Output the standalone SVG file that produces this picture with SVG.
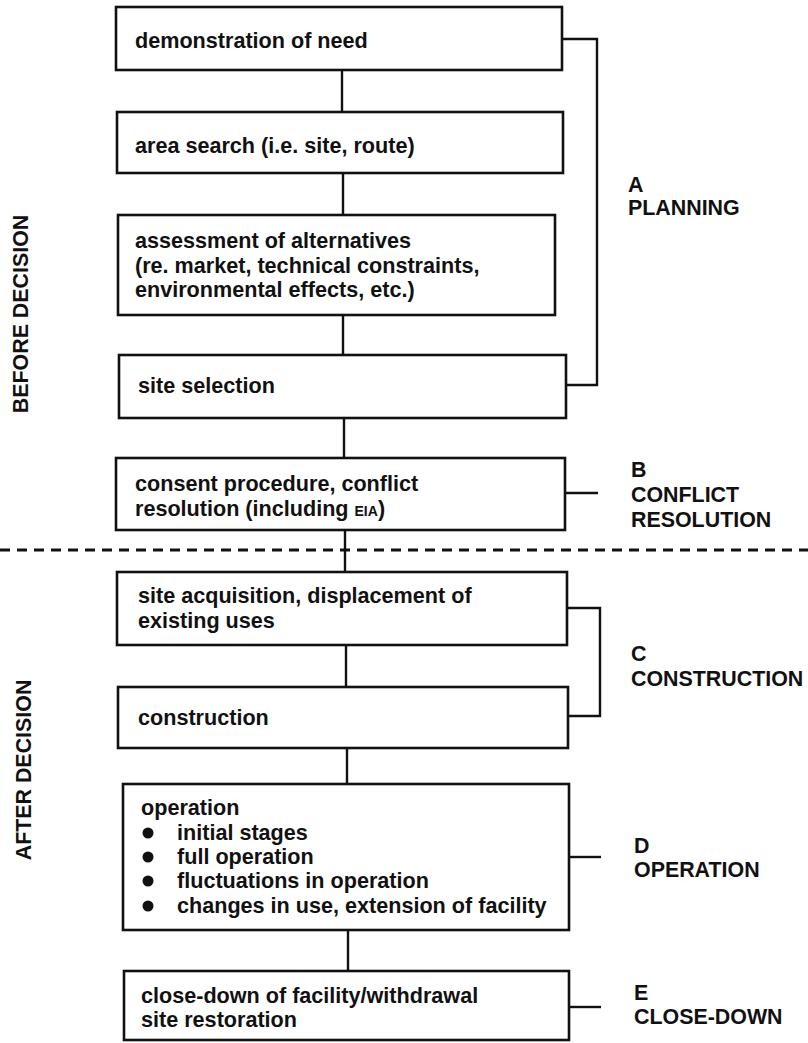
<svg xmlns="http://www.w3.org/2000/svg" width="808" height="1043" viewBox="0 0 808 1043">
<style>
  .box { fill: #fff; stroke: #111; stroke-width: 2.6; }
  .ln { fill: none; stroke: #111; stroke-width: 2.4; }
  .t { font-family: "Liberation Sans", Arial, sans-serif; font-weight: bold; font-size: 21.6px; fill: #111; }
  .lab { font-family: "Liberation Sans", Arial, sans-serif; font-weight: bold; font-size: 21.4px; fill: #111; }
  .side { font-family: "Liberation Sans", Arial, sans-serif; font-weight: bold; font-size: 21.4px; fill: #111; text-anchor: middle; }
  .dash { stroke: #111; stroke-width: 3; stroke-dasharray: 10 7; }
</style>
<rect width="808" height="1043" fill="#fff"/>

<g id="connectors">
  <line class="ln" x1="342" y1="70" x2="342" y2="112"/>
  <line class="ln" x1="343" y1="173" x2="343" y2="215"/>
  <line class="ln" x1="343" y1="315" x2="343" y2="355"/>
  <line class="ln" x1="344" y1="418" x2="344" y2="458"/>
  <line class="ln" x1="345" y1="530" x2="345" y2="572"/>
  <line class="ln" x1="346" y1="645" x2="346" y2="687"/>
  <line class="ln" x1="347" y1="748" x2="347" y2="784"/>
  <line class="ln" x1="348" y1="930" x2="348" y2="971"/>
  <polyline class="ln" points="562,39 597,39 597,385 566,385"/>
  <line class="ln" x1="565" y1="493" x2="598" y2="493"/>
  <polyline class="ln" points="567,608 600,608 600,716 568,716"/>
  <line class="ln" x1="569" y1="857" x2="601" y2="857"/>
  <line class="ln" x1="569" y1="1007" x2="601" y2="1007"/>
</g>

<line id="divider" class="dash" x1="0" y1="550" x2="808" y2="550"/>

<g id="side-before">
  <text class="side" transform="translate(28,314) rotate(-90)">BEFORE DECISION</text>
</g>
<g id="side-after">
  <text class="side" transform="translate(31,770) rotate(-90)">AFTER DECISION</text>
</g>

<g id="n1">
  <rect class="box" x="116" y="7" width="446" height="63"/>
  <text class="t" x="135" y="48">demonstration of need</text>
</g>
<g id="n2">
  <rect class="box" x="117" y="112" width="446" height="61"/>
  <text class="t" x="135" y="153">area search (i.e. site, route)</text>
</g>
<g id="n3">
  <rect class="box" x="118" y="215" width="437" height="100"/>
  <text class="t" x="135" y="248">assessment of alternatives</text>
  <text class="t" x="135" y="273">(re. market, technical constraints,</text>
  <text class="t" x="135" y="297">environmental effects, etc.)</text>
</g>
<g id="n4">
  <rect class="box" x="119" y="355" width="447" height="63"/>
  <text class="t" x="138" y="393">site selection</text>
</g>
<g id="nB">
  <rect class="box" x="116" y="458" width="449" height="72"/>
  <text class="t" x="135" y="491">consent procedure, conflict</text>
  <text class="t" x="135" y="516">resolution (including <tspan font-size="14">EIA</tspan>)</text>
</g>
<g id="nC1">
  <rect class="box" x="117" y="572" width="450" height="73"/>
  <text class="t" x="138" y="603">site acquisition, displacement of</text>
  <text class="t" x="138" y="628">existing uses</text>
</g>
<g id="nC2">
  <rect class="box" x="118" y="687" width="450" height="61"/>
  <text class="t" x="138" y="725">construction</text>
</g>
<g id="nD">
  <rect class="box" x="123" y="784" width="446" height="146"/>
  <text class="t" x="141" y="815">operation</text>
  <circle cx="148" cy="833" r="5.5" fill="#111"/>
  <circle cx="148" cy="857" r="5.5" fill="#111"/>
  <circle cx="148" cy="881" r="5.5" fill="#111"/>
  <circle cx="148" cy="906" r="5.5" fill="#111"/>
  <text class="t" x="177" y="840">initial stages</text>
  <text class="t" x="177" y="864">full operation</text>
  <text class="t" x="177" y="888">fluctuations in operation</text>
  <text class="t" x="177" y="913">changes in use, extension of facility</text>
</g>
<g id="nE">
  <rect class="box" x="124" y="971" width="445" height="69"/>
  <text class="t" x="141" y="1003">close-down of facility/withdrawal</text>
  <text class="t" x="141" y="1027">site restoration</text>
</g>

<g id="labA">
  <text class="lab" x="628" y="192">A</text>
  <text class="lab" x="628" y="215">PLANNING</text>
</g>
<g id="labB">
  <text class="lab" x="631" y="477">B</text>
  <text class="lab" x="631" y="502">CONFLICT</text>
  <text class="lab" x="631" y="527">RESOLUTION</text>
</g>
<g id="labC">
  <text class="lab" x="631" y="661">C</text>
  <text class="lab" x="631" y="686">CONSTRUCTION</text>
</g>
<g id="labD">
  <text class="lab" x="634" y="853">D</text>
  <text class="lab" x="634" y="877">OPERATION</text>
</g>
<g id="labE">
  <text class="lab" x="634" y="1000">E</text>
  <text class="lab" x="634" y="1024">CLOSE-DOWN</text>
</g>
</svg>
